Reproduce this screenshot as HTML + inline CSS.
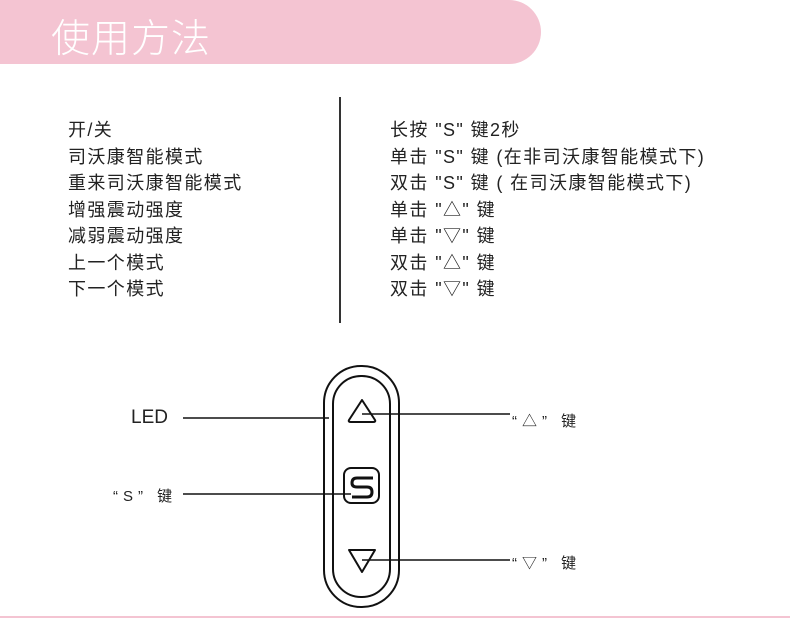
<!DOCTYPE html><html><head><meta charset="utf-8"><style>
body{margin:0;width:790px;height:624px;background:#fff;position:relative;overflow:hidden;font-family:"Liberation Sans","Noto Sans CJK SC",sans-serif;color:#222}
.ban{position:absolute;left:0;top:0;width:541px;height:64px;background:#f4c4d2;border-radius:0 32px 32px 0}
.ban span{position:absolute;left:51px;top:8px;font-size:39px;color:#fff;font-weight:300;letter-spacing:1px}
.col{position:absolute;top:117px;font-size:18px;line-height:26.5px;white-space:pre;letter-spacing:1.4px}
.t{position:absolute;font-size:15px;letter-spacing:5px}
</style></head><body>
<div class="ban"><span>使用方法</span></div>
<div class="col" style="left:68px">开/关
司沃康智能模式
重来司沃康智能模式
增强震动强度
减弱震动强度
上一个模式
下一个模式</div>
<div style="position:absolute;left:339px;top:97px;width:1.5px;height:226px;background:#333"></div>
<div class="col" style="left:390px">长按 "S" 键2秒
单击 "S" 键 (在非司沃康智能模式下)
双击 "S" 键 ( 在司沃康智能模式下)
单击 "△" 键
单击 "▽" 键
双击 "△" 键
双击 "▽" 键</div>
<div class="t" style="left:131px;top:407px;font-size:19px;letter-spacing:0">LED</div>
<div class="t" style="left:113px;top:485px">“S” 键</div>
<div class="t" style="left:512px;top:410px">“△” 键</div>
<div class="t" style="left:512px;top:552px">“▽” 键</div>
<svg width="790" height="624" style="position:absolute;left:0;top:0">
<g fill="none" stroke="#111" stroke-width="2">
<rect x="324" y="366" width="75" height="241" rx="37"/>
<rect x="333" y="376" width="57" height="221" rx="28"/>
<path d="M362 400 L349 420 Q348 422 351 422 L373 422 Q376 422 375 420 Z" stroke-linejoin="round"/>
<path d="M349 550 L375 550 L362 572 Z" stroke-linejoin="round"/>
<rect x="344" y="468" width="35" height="35" rx="7"/>
</g>
<path d="M373 478 L357 478 Q352 478 352 483 Q352 487 357 487 L367 487 Q372 487 372 492 Q372 497 367 497 L352 497" fill="none" stroke="#111" stroke-width="3"/>
<g stroke="#111" stroke-width="1.5">
<line x1="183" y1="418" x2="329" y2="418"/>
<line x1="362" y1="414" x2="510" y2="414"/>
<line x1="183" y1="494" x2="351" y2="494"/>
<line x1="362" y1="560" x2="510" y2="560"/>
</g>
<line x1="0" y1="617" x2="790" y2="617" stroke="#f4c4d2" stroke-width="2"/>
</svg>
</body></html>
